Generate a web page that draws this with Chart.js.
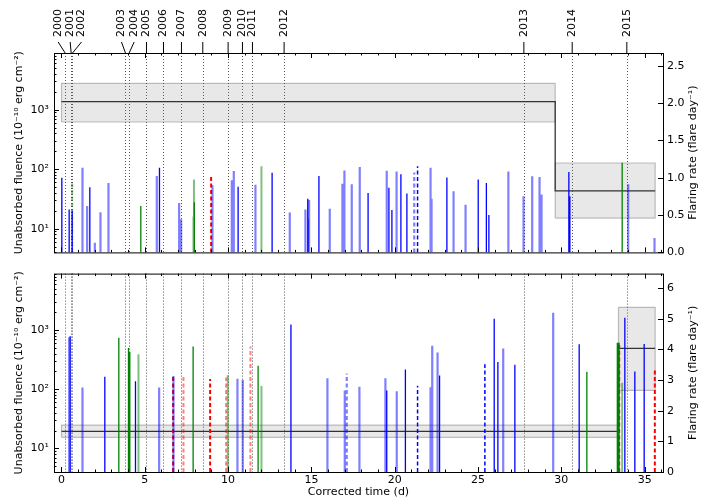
<!DOCTYPE html>
<html>
<head>
<meta charset="utf-8">
<script src="https://cdn.jsdelivr.net/npm/chart.js@4.4.1/dist/chart.umd.min.js"></script>
<style>
body{margin:0;background:#fff;}
#wrap{position:relative;width:707px;height:499px;}
canvas{position:absolute;left:0;}
</style>
</head>
<body>
<div id="wrap">
  <canvas id="topChart" width="707" height="264" style="top:0"></canvas>
  <canvas id="botChart" width="707" height="237" style="top:262px"></canvas>
</div>
<script>
// ---- axes ----
const XMIN=-0.45, XMAX=36.1;
const YMIN=4, YMAX=9000;
const timeTicks=[0,5,10,15,20,25,30,35];
const fluenceTicks=[10,100,1000];
const fluenceLabels={10:'10¹',100:'10²',1000:'10³'};
const rateTicksTop=[0,0.5,1,1.5,2,2.5];
const rateTicksBot=[0,1,2,3,4,5,6];

// ---- years ----
const yearLabels=['2000','2001','2002','2003','2004','2005','2006','2007','2008','2009','2010','2011','2012','2013','2014','2015'];
const yearX=[0.22,0.58,0.66,3.84,4.06,5.1,6.12,7.2,8.48,10.0,10.86,11.46,13.36,27.75,30.65,33.93];

// ---- top panel flares ----
const tDarkX=[0.02,0.46,0.64,1.70,5.88,10.6,12.64,14.78,14.8,15.45,18.4,19.65,19.83,20.37,20.73,23.13,25.01,25.5,25.65,30.45,30.51];
const tDarkY=[72,21,20,50,106,51,87,32,14.7,77,40,49,20.6,82,39,73,67,59,17,90,35];
const tLightX=[1.26,1.54,2.0,2.34,2.82,5.72,7.06,7.18,9.06,10.22,10.34,11.64,13.7,14.64,14.86,16.1,16.86,16.98,17.42,17.9,19.52,20.11,22.15,22.21,23.53,24.25,26.82,27.73,28.25,28.69,28.81,34.01,35.59];
const tLightY=[106,24,5.8,19,59,77,27,14.5,54,65,93,55,18.7,21,30.5,21.6,57,95,56,109,94,92,106,32,42.5,25.4,92,35,76.5,74,37.5,56,7];
const tGreenX=[4.76,7.97,33.65];
const tGreenY=[24,28,128];
const tPaleGreenX=[7.92,7.95,12.0];
const tPaleGreenY=[16,67,112];
const tGreenDashX=[0.64];
const tGreenDashY=[59];
const tRedDashX=[8.98];
const tRedDashY=[81];
const tBlueDashX=[21.37];
const tBlueDashY=[112];
const tPaleBlueDashX=[21.17];
const tPaleBlueDashY=[88];

// ---- bottom panel flares ----
const bDarkX=[0.52,2.6,4.44,13.77,19.52,20.64,22.69,25.97,26.19,27.21,31.07,33.81,34.41,34.97];
const bDarkY=[790,163,137,1247,95,216,171,1556,290,259,575,1615,200,583];
const bLightX=[0.46,1.26,5.86,6.72,10.56,10.88,15.96,17.0,17.88,19.44,20.12,22.15,22.25,22.57,26.51,29.51];
const bLightY=[760,107,107,167,151,144,153,95,110,153,92.5,108,542,419,486,1968];
const bGreenX=[3.44,4.02,4.1,7.9,11.8,31.53];
const bGreenY=[745,497,428,528,250,198];
const bGreenBoldX=[33.41];
const bGreenBoldY=[612];
const bPaleGreenX=[4.62,9.98,12.0,33.65];
const bPaleGreenY=[389,173,114,129];
const bRedDashX=[6.70,8.92,33.47,35.61];
const bRedDashY=[167,149,562,218];
const bPaleRedDashX=[7.32,9.88,11.34];
const bPaleRedDashY=[175,158,528];
const bBlueDashX=[21.37,25.41];
const bBlueDashY=[115,265];
const bPaleBlueDashX=[17.12];
const bPaleBlueDashY=[184];

// ---- flaring rate (Bayesian blocks) ----
const tRateEdges=[0,29.63,35.63];
const tRate=[2.02,0.824];
const tRateLo=[1.746,0.46];
const tRateHi=[2.263,1.197];
const bRateEdges=[0,33.43,35.63];
const bRate=[1.325,4.03];
const bRateLo=[1.13,2.66];
const bRateHi=[1.53,5.37];

Chart.defaults.font.family='"DejaVu Sans", sans-serif';
Chart.defaults.font.size=11;
Chart.defaults.color='#000';

const stemSet=(xs,ys,color,width,dash)=>({
  yAxisID:'y', order:1,
  data:xs.flatMap((x,i)=>[{x,y:YMIN},{x,y:ys[i]},{x,y:null}]),
  borderColor:color, borderWidth:width, borderDash:dash||[],
  borderCapStyle:'butt', pointRadius:0, spanGaps:false, fill:false
});
// step function: flat over each block, vertical jumps at the edges
const stepSet=(edges,rates)=>({
  yAxisID:'yR', order:2,
  data:rates.flatMap((r,i)=>[{x:edges[i],y:r},{x:edges[i+1],y:r}]),
  borderColor:'#333', borderWidth:1.3, pointRadius:0, fill:false
});
const boxSets=(edges,lo,hi)=>lo.map((l,i)=>({
  yAxisID:'yR', order:3,
  data:[{x:edges[i],y:l},{x:edges[i],y:hi[i]},{x:edges[i+1],y:hi[i]},{x:edges[i+1],y:l},{x:edges[i],y:l}],
  fill:'shape', backgroundColor:'rgba(128,128,128,0.18)',
  borderColor:'rgba(100,100,100,0.4)', borderWidth:1.2, pointRadius:0
}));

const DASH=[4,2.5];
const BLUE='#0000ff', PBLUE='rgba(0,0,255,0.5)';
const GREEN='#008000', PGREEN='rgba(0,128,0,0.5)';
const RED='#ff0000', PRED='rgba(255,0,0,0.5)';

// label shifts for crowded year labels (px)
const labelShift=[-7,-1,9,-4,5,0,0,0,0,0,0,0,0,0,0,0];

const deco={
  id:'deco',
  beforeDatasetsDraw(chart){
    const {ctx,chartArea:a,scales:{x}}=chart;
    ctx.save();
    ctx.strokeStyle='#555';ctx.lineWidth=1;ctx.setLineDash([1,2]);
    yearX.forEach(v=>{
      const px=Math.round(x.getPixelForValue(v))+0.5;
      ctx.beginPath();ctx.moveTo(px,a.top);ctx.lineTo(px,a.bottom);ctx.stroke();
    });
    ctx.restore();
  },
  afterDraw(chart,args,opts){
    const {ctx,chartArea:a,scales:{x,y,yR}}=chart;
    const L=a.left,R=a.right,T=a.top,B=a.bottom;
    const line=(x1,y1,x2,y2)=>{ctx.beginPath();ctx.moveTo(x1,y1);ctx.lineTo(x2,y2);ctx.stroke();};
    ctx.save();
    ctx.strokeStyle='#000';ctx.lineWidth=1;
    ctx.strokeRect(L+0.5,T+0.5,R-L,B-T);
    for(let v=Math.ceil(x.min);v<=x.max;v++){
      const px=Math.round(x.getPixelForValue(v))+0.5;
      const len=v%5===0?5:2.5;
      line(px,B,px,B-len);line(px,T,px,T+len);
    }
    for(let d=1;d<=1e4;d*=10){
      for(let m=1;m<10;m++){
        const v=d*m;
        if(v<y.min||v>y.max)continue;
        const py=Math.round(y.getPixelForValue(v))+0.5;
        line(L,py,L+(m===1?5:2.5),py);
      }
    }
    yR.ticks.forEach(t=>{
      const py=Math.round(yR.getPixelForValue(t.value))+0.5;
      line(R,py,R-5,py);
    });
    // right axis title
    ctx.fillStyle='#000';ctx.font='11px "DejaVu Sans"';
    ctx.textAlign='center';ctx.textBaseline='middle';
    ctx.save();ctx.translate(693,(T+B)/2);ctx.rotate(-Math.PI/2);
    ctx.fillText(opts.rTitle,0,0);ctx.restore();
    if(opts.years){
      ctx.textAlign='left';
      yearX.forEach((v,i)=>{
        const px=x.getPixelForValue(v);
        const lx=px+labelShift[i];
        line(lx,42,px,T);
        ctx.save();ctx.translate(lx,37);ctx.rotate(-Math.PI/2);
        ctx.fillText(yearLabels[i],0,0);ctx.restore();
      });
    }
    ctx.restore();
  }
};

const leftAxis=(title)=>({
  type:'logarithmic',position:'left',min:YMIN,max:YMAX,
  afterBuildTicks:s=>{s.ticks=fluenceTicks.map(v=>({value:v}));},
  ticks:{callback:v=>fluenceLabels[v],padding:5},
  grid:{display:false,drawTicks:false},border:{display:false},
  title:{display:true,text:title,padding:{top:13,bottom:0}},
  afterFit:s=>{s.width=54;}
});
const rightAxis=(max,ticks,digits)=>({
  type:'linear',position:'right',min:0,max:max,
  afterBuildTicks:s=>{s.ticks=ticks.map(v=>({value:v}));},
  ticks:{callback:v=>v.toFixed(digits),padding:4},
  grid:{display:false,drawTicks:false},border:{display:false},
  afterFit:s=>{s.width=44;}
});

const yTitle='Unabsorbed fluence (10⁻¹⁰ erg cm⁻²)';
const rTitle='Flaring rate (flare day⁻¹)';

new Chart(document.getElementById('topChart'),{
  type:'line',
  data:{datasets:[
    ...boxSets(tRateEdges,tRateLo,tRateHi),
    stepSet(tRateEdges,tRate),
    stemSet(tLightX,tLightY,PBLUE,2.2),
    stemSet(tDarkX,tDarkY,BLUE,1.3),
    stemSet(tPaleGreenX,tPaleGreenY,PGREEN,2),
    stemSet(tGreenX,tGreenY,GREEN,1.3),
    stemSet(tGreenDashX,tGreenDashY,PGREEN,2,DASH),
    stemSet(tRedDashX,tRedDashY,RED,2,DASH),
    stemSet(tPaleBlueDashX,tPaleBlueDashY,PBLUE,2.2,DASH),
    stemSet(tBlueDashX,tBlueDashY,BLUE,1.5,DASH)
  ]},
  options:{
    responsive:false,animation:false,events:[],
    layout:{padding:{top:53,bottom:1,left:0,right:0}},
    plugins:{legend:{display:false},tooltip:{enabled:false},deco:{years:true,rTitle:rTitle}},
    scales:{
      x:{type:'linear',display:false,min:XMIN,max:XMAX},
      y:leftAxis(yTitle),
      yR:rightAxis(2.67,rateTicksTop,1)
    }
  },
  plugins:[deco]
});

new Chart(document.getElementById('botChart'),{
  type:'line',
  data:{datasets:[
    ...boxSets(bRateEdges,bRateLo,bRateHi),
    stepSet(bRateEdges,bRate),
    stemSet(bLightX,bLightY,PBLUE,2.2),
    stemSet(bDarkX,bDarkY,BLUE,1.3),
    stemSet(bPaleGreenX,bPaleGreenY,PGREEN,2),
    stemSet(bGreenX,bGreenY,GREEN,1.3),
    stemSet(bGreenBoldX,bGreenBoldY,GREEN,3),
    stemSet(bPaleRedDashX,bPaleRedDashY,PRED,2,DASH),
    stemSet(bRedDashX,bRedDashY,RED,2,DASH),
    stemSet(bPaleBlueDashX,bPaleBlueDashY,PBLUE,2.2,DASH),
    stemSet(bBlueDashX,bBlueDashY,BLUE,1.5,DASH)
  ]},
  options:{
    responsive:false,animation:false,events:[],
    layout:{padding:{top:1,bottom:0,left:0,right:0}},
    plugins:{legend:{display:false},tooltip:{enabled:false},deco:{years:false,rTitle:rTitle}},
    scales:{
      x:{type:'linear',position:'bottom',min:XMIN,max:XMAX,
        afterBuildTicks:s=>{s.ticks=timeTicks.map(v=>({value:v}));},
        ticks:{padding:2,maxRotation:0,autoSkip:false},
        grid:{display:false,drawTicks:false},border:{display:false},
        title:{display:true,text:'Corrected time (d)',padding:{top:0,bottom:0}},
        afterFit:s=>{s.height=27;}
      },
      y:leftAxis(yTitle),
      yR:rightAxis(6.47,rateTicksBot,0)
    }
  },
  plugins:[deco]
});
</script>
</body>
</html>
